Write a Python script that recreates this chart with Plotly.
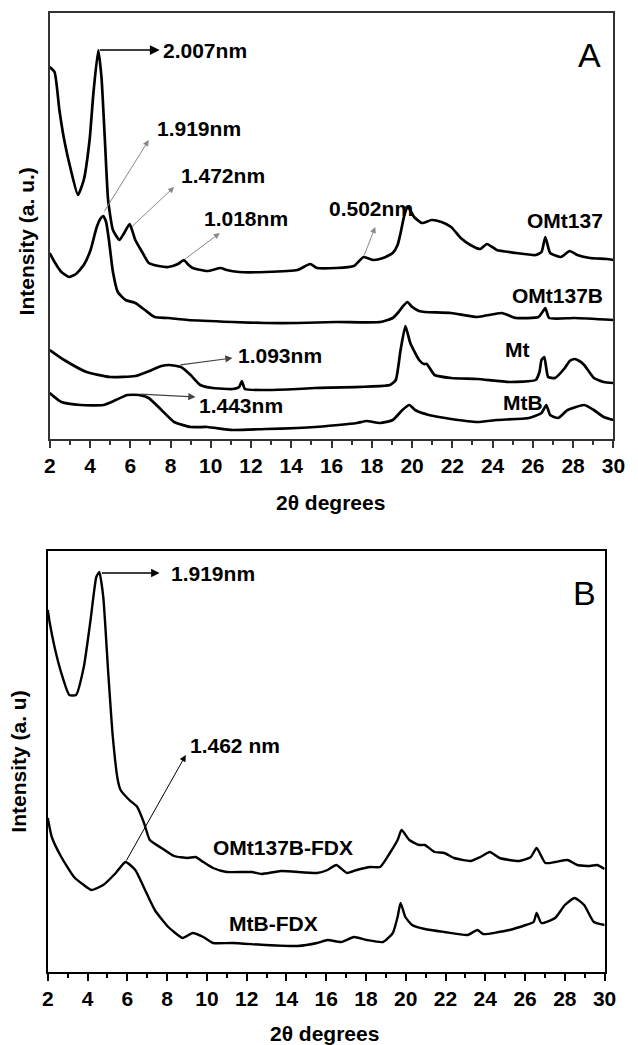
import plotly.graph_objects as go

# ---------------- Panel A data (2theta, intensity a.u.) ----------------
omt137_x = [2.00, 2.24, 2.48, 2.72, 3.05, 3.40, 3.69, 3.98, 4.17, 4.41, 4.57, 4.74, 4.90, 5.14, 5.46, 5.70,
            5.97, 6.25, 6.59, 6.92, 7.41, 7.89, 8.37, 8.66, 8.90, 9.10, 9.82, 10.50, 10.79, 11.41, 12.72,
            14.31, 14.94, 15.28, 16.24, 17.11, 17.59, 18.08, 18.56, 19.04, 19.28, 19.43, 19.62, 19.80,
            20.10, 20.49, 20.97, 21.46, 21.94, 22.42, 22.90, 23.39, 23.72, 24.21, 25.17, 26.14, 26.43,
            26.62, 26.86, 27.39, 27.83, 28.21, 28.84, 29.66, 30.00]
omt137_y = [372, 367, 329, 299, 269, 244, 259, 299, 346, 389, 362, 299, 239, 209, 199, 206,
            215, 199, 187, 176, 173, 172, 175, 179, 174, 171, 168, 171, 169, 167, 167,
            169, 175, 171, 171, 173, 182, 179, 181, 186, 194, 206, 224, 232,
            222, 216, 219, 217, 212, 201, 194, 190, 195, 189, 186, 184, 187,
            202, 186, 182, 188, 184, 181, 180, 179]

omt137b_x = [2.00, 2.24, 2.58, 2.97, 3.30, 3.69, 4.03, 4.32, 4.51, 4.66, 4.80, 4.94, 5.14, 5.38, 5.77,
             6.25, 6.73, 7.21, 7.89, 8.86, 11.08, 12.72, 14.31, 16.24, 18.41, 19.04, 19.33, 19.52,
             19.77, 20.01, 20.35, 20.63, 21.94, 23.24, 24.45, 25.17, 26.28, 26.48, 26.62, 26.81,
             28.07, 30.00]
omt137b_y = [186, 177, 167, 162, 165, 174, 189, 211, 220, 223, 217, 199, 167, 147, 139,
             136, 129, 122, 121, 119, 117, 116, 116, 117, 117, 121, 127, 132,
             137, 132, 128, 127, 126, 122, 126, 121, 122, 127, 131, 121,
             121, 119]

mt_x = [2.00, 2.72, 3.83, 4.99, 6.25, 7.07, 7.55, 7.95, 8.52, 9.00, 9.48, 10.11, 11.08, 11.41, 11.54,
        11.70, 12.72, 14.31, 15.18, 18.90, 19.19, 19.43, 19.67, 19.91, 20.35, 20.59, 20.73, 21.12,
        21.94, 23.24, 24.83, 26.14, 26.33, 26.43, 26.57, 26.76, 27.10, 27.59, 27.83, 28.07, 28.31,
        28.55, 29.03, 29.52, 30.00]
mt_y = [89, 79, 67, 62, 63, 69, 73, 74, 72, 64, 54, 51, 50, 52, 58,
        50, 49, 50, 51, 54, 59, 89, 113, 96, 79, 75, 75, 64,
        61, 60, 57, 59, 67, 79, 82, 62, 61, 71, 78, 80, 78,
        74, 61, 57, 56]

mtb_x = [2.00, 2.58, 3.54, 4.66, 5.28, 5.86, 6.44, 6.92, 7.55, 8.18, 9.00, 9.82, 11.08, 12.72, 14.31,
         15.18, 17.26, 17.74, 18.41, 19.04, 19.52, 19.86, 20.15, 20.83, 21.94, 23.24, 24.21, 25.80,
         26.43, 26.67, 26.86, 27.25, 27.73, 28.55, 29.03, 29.52, 30.00]
mtb_y = [46, 37, 34, 34, 39, 44, 44, 41, 29, 17, 12, 12, 9, 10, 11,
         12, 16, 18, 16, 19, 29, 34, 29, 24, 20, 17, 19, 21,
         26, 34, 24, 21, 29, 34, 29, 22, 19]

# ---------------- Panel B data ----------------
omtfdx_x = [2.00, 2.10, 2.34, 2.68, 3.08, 3.42, 3.81, 4.15, 4.44, 4.59, 4.79, 5.03, 5.27, 5.52, 5.66,
            6.10, 6.50, 6.84, 7.13, 7.72, 8.35, 9.04, 9.43, 9.82, 10.31, 10.99, 12.26, 12.75, 13.73,
            15.54, 16.07, 16.51, 17.05, 17.54, 18.22, 18.71, 19.20, 19.59, 19.79, 20.18, 20.67, 20.96,
            21.45, 21.94, 22.43, 23.26, 23.75, 24.23, 24.72, 25.70, 26.29, 26.58, 27.02, 27.51, 28.14,
            28.63, 29.27, 29.61, 30.00]
omtfdx_y = [362, 349, 325, 299, 277, 277, 305, 352, 395, 400, 375, 302, 235, 192, 182,
            172, 165, 149, 132, 124, 116, 114, 115, 110, 104, 100, 100, 98, 101,
            99, 102, 107, 99, 102, 105, 105, 119, 132, 142, 132, 127, 127,
            120, 119, 114, 111, 115, 120, 114, 111, 115, 124, 109, 110, 112,
            107, 106, 107, 103]

mtbfdx_x = [2.00, 2.20, 2.68, 3.32, 3.81, 4.20, 4.79, 5.42, 5.91, 6.40, 6.89, 7.38, 8.06, 8.79, 9.28,
            9.82, 10.31, 11.28, 12.95, 14.56, 15.54, 16.07, 16.76, 17.39, 18.03, 18.86, 19.35, 19.59,
            19.74, 19.98, 20.32, 20.96, 21.94, 23.11, 23.60, 23.89, 25.21, 26.04, 26.43, 26.58, 26.82,
            27.51, 28.00, 28.49, 28.97, 29.46, 30.00]
mtbfdx_y = [154, 135, 115, 95, 87, 82, 87, 99, 110, 102, 82, 62, 45, 34, 39,
            35, 29, 29, 27, 26, 29, 32, 30, 35, 32, 30, 39, 55,
            69, 55, 47, 43, 40, 37, 42, 38, 42, 47, 50, 59, 49,
            54, 67, 74, 67, 50, 47]

x_ticks = [2, 4, 6, 8, 10, 12, 14, 16, 18, 20, 22, 24, 26, 28, 30]

W, H = 638, 1045
FONT = "Liberation Sans"
LBL = dict(family=FONT, size=21, color="black", weight="bold")

fig = go.Figure()

line_a = dict(color="black", width=2.7, shape="spline", smoothing=0.5)
for xs, ys in [(omt137_x, omt137_y), (omt137b_x, omt137b_y), (mt_x, mt_y), (mtb_x, mtb_y)]:
    fig.add_trace(go.Scatter(x=xs, y=ys, mode="lines", line=line_a, xaxis="x", yaxis="y",
                             showlegend=False, hoverinfo="skip"))
line_b = dict(color="black", width=2.4, shape="spline", smoothing=0.5)
for xs, ys in [(omtfdx_x, omtfdx_y), (mtbfdx_x, mtbfdx_y)]:
    fig.add_trace(go.Scatter(x=xs, y=ys, mode="lines", line=line_b, xaxis="x2", yaxis="y2",
                             showlegend=False, hoverinfo="skip"))


def xaxis(domain, anchor, lc):
    return dict(domain=domain, anchor=anchor, range=[2, 30], tickmode="array", tickvals=x_ticks,
                ticktext=[str(t) for t in x_ticks], ticks="outside", ticklen=7, tickwidth=1.5,
                tickcolor=lc, showline=True, linecolor=lc, linewidth=1.6, mirror=True,
                showgrid=False, zeroline=False,
                tickfont=dict(family=FONT, size=21, color="black", weight="bold"),
                minor=dict(tickvals=list(range(3, 30, 2)), ticks="outside", ticklen=4, tickwidth=1.5,
                           tickcolor=lc, showgrid=False))


def yaxis(domain, anchor, rng, lc):
    return dict(domain=domain, anchor=anchor, range=rng, showticklabels=False, ticks="",
                showline=True, linecolor=lc, linewidth=1.6, mirror=True, showgrid=False, zeroline=False)


fig.update_layout(
    width=W, height=H, margin=dict(l=0, r=0, t=0, b=0),
    paper_bgcolor="white", plot_bgcolor="white", showlegend=False,
    xaxis=xaxis([45 / W, 625 / W], "y", "#333333"),
    yaxis=yaxis([1 - 439 / H, 1 - 13 / H], "x", [0, 426], "#333333"),
    xaxis2=xaxis([43 / W, 616 / W], "y2", "black"),
    yaxis2=yaxis([1 - 972 / H, 1 - 551 / H], "x2", [0, 421], "black"),
)

ann = []


def arrow(xh, yh, xt, yt, xr, yr, color, width=1.0, size=1.2):
    ann.append(dict(x=xh, y=yh, ax=xt, ay=yt, xref=xr, yref=yr, axref=xr, ayref=yr, text="",
                    showarrow=True, arrowhead=2, arrowsize=size, arrowwidth=width, arrowcolor=color,
                    standoff=0, startstandoff=0))


def label(x, y, txt, xr, yr, size=21, weight="bold"):
    ann.append(dict(x=x, y=y, xref=xr, yref=yr, text=txt, showarrow=False, xanchor="left",
                    yanchor="middle", font=dict(family=FONT, size=size, color="black", weight=weight)))


# Panel A annotations
arrow(7.46, 389, 4.41, 389, "x", "y", "black", 1.5, 1.3)
label(7.55, 389, "2.007nm", "x", "y")
arrow(6.92, 299, 4.66, 226, "x", "y", "#888888")
label(7.21, 311, "1.919nm", "x", "y")
arrow(8.18, 252, 6.01, 211, "x", "y", "#888888")
label(8.42, 264, "1.472nm", "x", "y")
arrow(10.45, 206, 8.66, 179, "x", "y", "#888888")
label(9.58, 221, "1.018nm", "x", "y")
arrow(18.17, 212, 17.59, 182, "x", "y", "#888888")
label(15.76, 231, "0.502nm", "x", "y")
arrow(11.08, 81, 8.42, 74, "x", "y", "#444444", 1.2)
label(11.27, 84, "1.093nm", "x", "y")
arrow(9.24, 42, 6.44, 45, "x", "y", "#444444", 1.2)
label(9.34, 34, "1.443nm", "x", "y")
label(25.60, 219, "OMt137", "x", "y")
label(24.85, 144, "OMt137B", "x", "y")
label(24.50, 90, "Mt", "x", "y")
label(24.40, 37, "MtB", "x", "y")
label(28.12, 384, "A", "x", "y", size=34, weight="normal")

# Panel B annotations
arrow(7.62, 399, 4.64, 399, "x2", "y2", "black", 1.3, 1.3)
label(8.11, 399, "1.919nm", "x2", "y2")
arrow(8.94, 217, 5.91, 110, "x2", "y2", "black", 1.0, 1.3)
label(9.04, 227, "1.462 nm", "x2", "y2")
label(10.20, 125, "OMt137B-FDX", "x2", "y2")
label(11.00, 49, "MtB-FDX", "x2", "y2")
label(28.29, 379, "B", "x2", "y2", size=34, weight="normal")

# Axis titles
ann.append(dict(x=334 / W, y=1 - 502 / H, xref="paper", yref="paper", text="2θ degrees", showarrow=False,
                xanchor="center", yanchor="middle", font=LBL))
ann.append(dict(x=328 / W, y=1 - 1033 / H, xref="paper", yref="paper", text="2θ degrees", showarrow=False,
                xanchor="center", yanchor="middle", font=LBL))
ann.append(dict(x=22 / W, y=1 - 241 / H, xref="paper", yref="paper", text="Intensity (a. u.)", showarrow=False,
                textangle=-90, xanchor="center", yanchor="middle", font=LBL))
ann.append(dict(x=12 / W, y=1 - 762 / H, xref="paper", yref="paper", text="Intensity (a. u)", showarrow=False,
                textangle=-90, xanchor="center", yanchor="middle", font=LBL))

fig.update_layout(annotations=ann)
fig.write_html("out.html")
